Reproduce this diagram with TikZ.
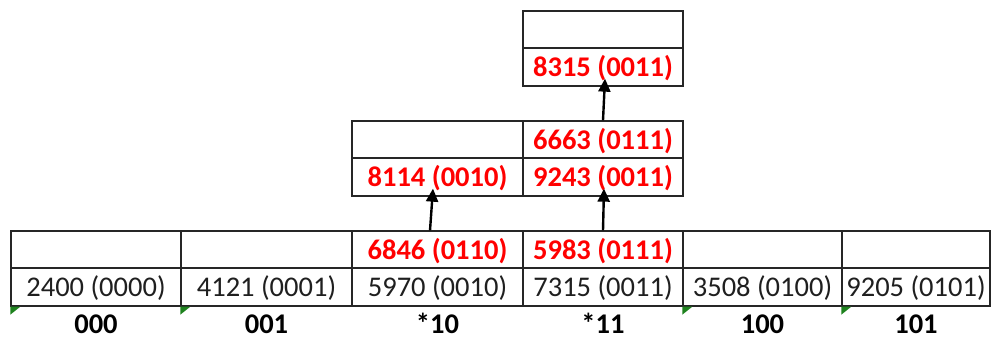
\documentclass[tikz,border=0pt]{standalone}
\usepackage{fontspec}
\setmainfont{Carlito}
\usetikzlibrary{arrows.meta}
\definecolor{xlgreen}{RGB}{30,130,30}
\definecolor{xlred}{RGB}{255,0,0}
\begin{document}
\begin{tikzpicture}[x=1pt,y=-1pt,
  cell/.style={draw=black!85, line width=1.3pt, inner sep=0pt,
    text height=19.5pt, text depth=0pt,
    font=\fontsize{28.5}{30}\selectfont, text=black!88},
  hl/.style={text=xlred, font=\fontsize{28.5}{30}\selectfont\bfseries},
  lbl/.style={font=\fontsize{28.5}{30}\selectfont\bfseries, text=black, inner sep=0pt, anchor=base},
  flag/.style={fill=xlgreen, draw=none},
  ptr/.style={line width=2.4pt, -{Triangle[length=13pt,width=12pt]}}]
\useasboundingbox (0,0) rectangle (991,340);
% bottom table, upper row
\node[cell, minimum width=170pt, minimum height=37pt] (b0a) at (96,249.5) {};
\node[cell, minimum width=171pt, minimum height=37pt] (b1a) at (266.5,249.5) {};
\node[cell, hl, minimum width=171pt, minimum height=37pt] (b2a) at (437.5,249.5) {6846 (0110)};
\node[cell, hl, minimum width=160pt, minimum height=37pt] (b3a) at (603,249.5) {5983 (0111)};
\node[cell, minimum width=159pt, minimum height=37pt] (b4a) at (762.5,249.5) {};
\node[cell, minimum width=148pt, minimum height=37pt] (b5a) at (916,249.5) {};
% bottom table, lower row
\node[cell, minimum width=170pt, minimum height=38pt] (b0b) at (96,287) {2400 (0000)};
\node[cell, minimum width=171pt, minimum height=38pt] (b1b) at (266.5,287) {4121 (0001)};
\node[cell, minimum width=171pt, minimum height=38pt] (b2b) at (437.5,287) {5970 (0010)};
\node[cell, minimum width=160pt, minimum height=38pt] (b3b) at (603,287) {7315 (0011)};
\node[cell, minimum width=159pt, minimum height=38pt] (b4b) at (762.5,287) {3508 (0100)};
\node[cell, minimum width=148pt, minimum height=38pt] (b5b) at (916,287) {9205 (0101)};
% middle table
\node[cell, minimum width=171pt, minimum height=37pt] (m0a) at (437.5,139.5) {};
\node[cell, hl, minimum width=160pt, minimum height=37pt] (m1a) at (603,139.5) {6663 (0111)};
\node[cell, hl, minimum width=171pt, minimum height=38pt] (m0b) at (437.5,177) {8114 (0010)};
\node[cell, hl, minimum width=160pt, minimum height=38pt] (m1b) at (603,177) {9243 (0011)};
% top table
\node[cell, minimum width=160pt, minimum height=37pt] (t0a) at (603,29.5) {};
\node[cell, hl, minimum width=160pt, minimum height=38pt] (t0b) at (603,67) {8315 (0011)};
% labels
\node[lbl] (l0) at (96,333) {000};
\node[lbl] (l1) at (266.5,333) {001};
\node[lbl] (l2) at (437.5,333) {*10};
\node[lbl] (l3) at (603,333) {*11};
\node[lbl] (l4) at (762.5,333) {100};
\node[lbl] (l5) at (916,333) {101};
% green corner flags
\fill[flag] (b0b.south west) -- ++(10pt,0) -- ++(-10pt,-8pt) -- cycle;
\fill[flag] (b1b.south west) -- ++(10pt,0) -- ++(-10pt,-8pt) -- cycle;
\fill[flag] (b4b.south west) -- ++(10pt,0) -- ++(-10pt,-8pt) -- cycle;
\fill[flag] (b5b.south west) -- ++(10pt,0) -- ++(-10pt,-8pt) -- cycle;
% arrows
\draw[ptr] ([xshift=-7.5pt]b2a.north) -- ([xshift=-4.5pt,yshift=8pt]m0b.south);
\draw[ptr] (b3a.north) -- ([xshift=1pt,yshift=8pt]m1b.south);
\draw[ptr] (m1a.north) -- ([xshift=2pt,yshift=8pt]t0b.south);
\end{tikzpicture}
\end{document}
